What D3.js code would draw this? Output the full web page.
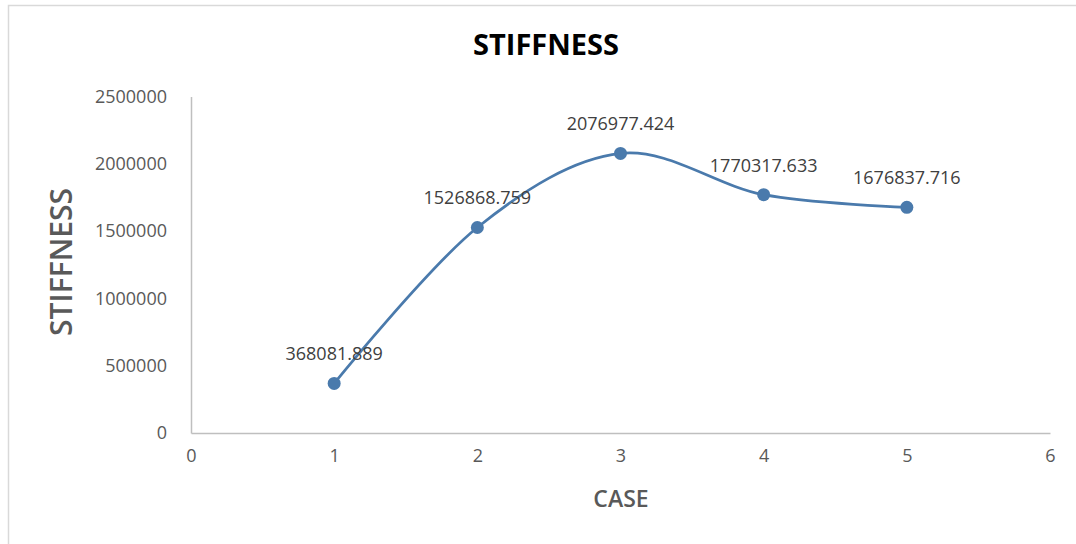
<!DOCTYPE html>
<html>
<head>
<meta charset="utf-8">
<script src="https://cdn.jsdelivr.net/npm/d3@7"></script>
<style>
  html, body { margin: 0; padding: 0; background: #fff; }
  svg { display: block; font-family: "Open Sans", "DejaVu Sans", sans-serif; }
</style>
</head>
<body>
<svg id="chart" width="1076" height="544"></svg>
<script>
// ---- data ----
const cases = [1, 2, 3, 4, 5];
const stiffness = [368081.889, 1526868.759, 2076977.424, 1770317.633, 1676837.716];
const labels = ["368081.889", "1526868.759", "2076977.424", "1770317.633", "1676837.716"];
const xTicks = [0, 1, 2, 3, 4, 5, 6];
const yTicks = [0, 500000, 1000000, 1500000, 2000000, 2500000];
const chartTitle = "STIFFNESS";
const xTitle = "CASE";
const yTitle = "STIFFNESS";

// ---- layout ----
const svg = d3.select("#chart");
const W = 1076, H = 544;
const plot = { left: 191, right: 1050, top: 96.5, bottom: 433 };

// outer chart border
svg.append("rect")
  .attr("x", 8.5).attr("y", 5.5)
  .attr("width", W + 10).attr("height", H + 10)
  .attr("fill", "#fff").attr("stroke", "#d9d9d9").attr("stroke-width", 1.5);

const x = d3.scaleLinear().domain([0, 6]).range([plot.left, plot.right]);
const y = d3.scaleLinear().domain([0, 2500000]).range([plot.bottom, plot.top]);

// x axis
const xAxis = svg.append("g")
  .attr("transform", `translate(0,${plot.bottom})`)
  .call(d3.axisBottom(x).tickValues(xTicks).tickFormat(d3.format("d")).tickSize(0).tickPadding(16));
xAxis.select(".domain").attr("stroke", "#bfbfbf").attr("stroke-width", 1.5);
xAxis.selectAll("text").attr("fill", "#595959").style("font-size", "18px")
  .style("font-family", '"Open Sans", sans-serif');

// y axis
const yAxis = svg.append("g")
  .attr("transform", `translate(${plot.left},0)`)
  .call(d3.axisLeft(y).tickValues(yTicks).tickFormat(d3.format("d")).tickSize(0).tickPadding(24));
yAxis.select(".domain").attr("stroke", "#bfbfbf").attr("stroke-width", 1.5);
yAxis.selectAll("text").attr("fill", "#595959").style("font-size", "18px")
  .style("font-family", '"Open Sans", sans-serif');

// series
const data = cases.map((c, i) => ({ x: c, y: stiffness[i], label: labels[i] }));
const line = d3.line()
  .x(d => x(d.x)).y(d => y(d.y))
  .curve(d3.curveCatmullRom.alpha(0));

svg.append("path")
  .datum(data)
  .attr("d", line)
  .attr("fill", "none")
  .attr("stroke", "#4a7aac")
  .attr("stroke-width", 2.75);

svg.append("g").selectAll("circle")
  .data(data).join("circle")
  .attr("cx", d => x(d.x)).attr("cy", d => y(d.y))
  .attr("r", 6.5)
  .attr("fill", "#4a7aac");

// data labels
svg.append("g").selectAll("text")
  .data(data).join("text")
  .attr("x", d => x(d.x))
  .attr("y", d => y(d.y) - 23)
  .attr("text-anchor", "middle")
  .attr("fill", "#404040")
  .style("font-size", "18px")
  .text(d => d.label);

// titles
svg.append("text")
  .attr("x", 546).attr("y", 55)
  .attr("text-anchor", "middle")
  .attr("fill", "#000")
  .style("font-size", "29px").style("font-weight", "700")
  .text(chartTitle);

svg.append("text")
  .attr("x", 621).attr("y", 507)
  .attr("text-anchor", "middle")
  .attr("fill", "#595959")
  .style("font-size", "23px").style("font-weight", "600")
  .text(xTitle);

svg.append("text")
  .attr("transform", "translate(72,262) rotate(-90)")
  .attr("text-anchor", "middle")
  .attr("fill", "#595959")
  .style("font-size", "30px").style("font-weight", "600")
  .text(yTitle);
</script>
</body>
</html>
